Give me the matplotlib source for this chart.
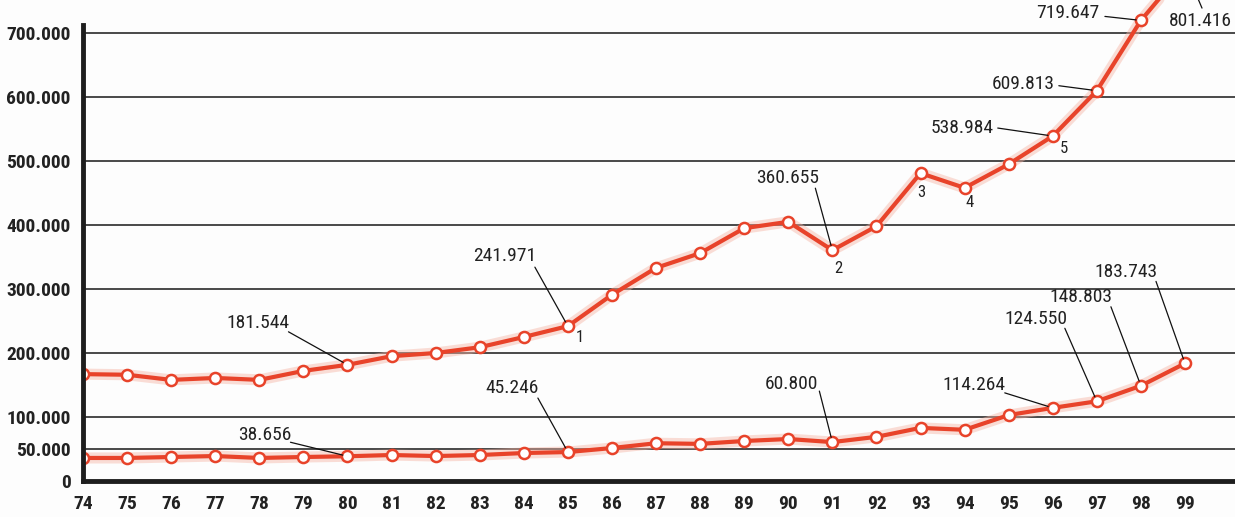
import matplotlib
matplotlib.use("Agg")
import matplotlib.pyplot as plt
from matplotlib import font_manager as fm

# ---------------- data (values in thousands) ----------------
years = list(range(74, 100))
year_labels = [str(y) for y in years]

upper = [167, 166, 158, 161, 158, 172, 181.544, 195, 200, 209, 225, 241.971,
         291, 333, 356, 395, 405, 360.655, 398, 481, 458, 495, 538.984,
         609.813, 719.647, 801.416]
lower = [36, 36, 37.5, 39, 36, 37.5, 38.656, 40.6, 39, 40.6, 43.7, 45.246,
         51.5, 59, 58, 62.5, 65.6, 60.800, 69, 83, 80, 103, 114.264,
         124.550, 148.803, 183.743]

ytick_vals = [0, 50, 100, 200, 300, 400, 500, 600, 700]
ytick_labels = ['0', '50.000', '100.000', '200.000', '300.000', '400.000',
                '500.000', '600.000', '700.000']

# labelled points: (series, year, label)
value_labels = [
    ('upper', 80, '181.544'),
    ('upper', 85, '241.971'),
    ('upper', 91, '360.655'),
    ('upper', 96, '538.984'),
    ('upper', 97, '609.813'),
    ('upper', 98, '719.647'),
    ('upper', 99, '801.416'),
    ('lower', 80, '38.656'),
    ('lower', 85, '45.246'),
    ('lower', 91, '60.800'),
    ('lower', 96, '114.264'),
    ('lower', 97, '124.550'),
    ('lower', 98, '148.803'),
    ('lower', 99, '183.743'),
]
# layout: text offset and leader-line start offset (pixels)
label_layout = [
    ((-90, 42), (-59, 33)),
    ((-63, 70), (-33, 59)),
    ((-45, 72), (-17, 62)),
    ((-91, 8), (-55, 8)),
    ((-74, 7), (-38, 5)),
    ((-73, 7), (-36, 4)),
    ((15, -53), (17, -40)),
    ((-83, 21), (-57, 14)),
    ((-56, 64), (-30, 54)),
    ((-41, 58), (-13, 51)),
    ((-79, 23), (-48, 15)),
    ((-61, 82), (-32, 73)),
    ((-60, 89), (-30, 79)),
    ((-59, 91), (-29, 82)),
]

marker_years = [85, 91, 93, 94, 96]
marker_texts = ['1', '2', '3', '4', '5']
marker_offsets = [(12, -11), (6, -18), (1, -19), (5, -15), (11, -12)]


# ---------------- font selection (condensed face if available) ----------------
def pick_font(bold):
    prefs = ['liberation sans narrow', 'roboto condensed', 'open sans condensed',
             'dejavu sans condensed', 'noto sans condensed', 'dejavu sans']
    best = None
    best_rank = None
    for f in fm.fontManager.ttflist:
        nm = f.name.lower()
        fn = f.fname.lower()
        cond = ('narrow' in nm or 'condensed' in nm or 'narrow' in fn
                or 'condensed' in fn or f.stretch in ('condensed', 'semi-condensed',
                                                      'extra-condensed'))
        if not cond:
            continue
        if 'italic' in fn or 'oblique' in fn or f.style != 'normal':
            continue
        w = f.weight if isinstance(f.weight, int) else (700 if 'bold' in str(f.weight) else 400)
        if bold and w < 600:
            continue
        if not bold and w >= 600:
            continue
        key = nm + ' ' + ('condensed' if 'condensed' in fn else '') + ('narrow' if 'narrow' in fn else '')
        rank = len(prefs)
        for i, p in enumerate(prefs):
            if all(part in key for part in p.split()):
                rank = i
                break
        if best is None or rank < best_rank:
            best, best_rank = f, rank
    if best is not None:
        return dict(fontproperties=fm.FontProperties(fname=best.fname)), True
    return dict(family=['Roboto', 'DejaVu Sans'],
                fontweight='bold' if bold else 'normal'), False


bold_font, bold_cond = pick_font(True)
reg_font, reg_cond = pick_font(False)
if not reg_cond and bold_cond:
    reg_font, reg_cond = bold_font, True
if not bold_cond and reg_cond:
    bold_font, bold_cond = reg_font, True
tick_size = 14 if bold_cond else 12
lab_size = 14 if reg_cond else 12
num_size = 12 if reg_cond else 10


def fp(fontdict, size):
    d = dict(fontdict)
    if 'fontproperties' in d:
        p = d['fontproperties'].copy()
        p.set_size(size)
        return dict(fontproperties=p)
    d['fontsize'] = size
    return d


# ---------------- figure ----------------
W, H = 1235, 517
fig = plt.figure(figsize=(W / 100, H / 100), dpi=100, facecolor='#fdfdfd')
ax = fig.add_axes([83 / W, 36 / H, 1 - 83 / W, 481 / H])
ax.set_facecolor('#fdfdfd')

ax.set_xlim(74, 74 + (W - 83) / 44.08)
ax.set_ylim(0, 481 / 0.64)

for v in ytick_vals[1:]:
    ax.axhline(v, color='#2a2a2a', lw=1.2, zorder=1)

red = '#e8432a'
for series in (upper, lower):
    ax.plot(years, series, color='#f6b5a5', lw=8, alpha=0.45, zorder=2,
            solid_capstyle='round')
    ax.plot(years, series, color=red, lw=3, zorder=3, marker='o',
            markersize=8, markerfacecolor='white', markeredgecolor=red,
            markeredgewidth=1.8)

ax.set_xticks(years)
ax.set_xticklabels(year_labels, color='#222222', **fp(bold_font, tick_size))
ax.set_yticks(ytick_vals)
ax.set_yticklabels(ytick_labels, color='#222222', **fp(bold_font, tick_size))
ax.tick_params(axis='both', length=0)
ax.tick_params(axis='y', pad=9)
ax.tick_params(axis='x', pad=10)

for s in ('top', 'right'):
    ax.spines[s].set_visible(False)
ax.spines['left'].set_linewidth(3.5)
ax.spines['bottom'].set_linewidth(3.5)
ax.spines['left'].set_color('#1e1e1e')
ax.spines['bottom'].set_color('#1e1e1e')
ax.spines['left'].set_bounds(0, 712)
ax.spines['left'].set_zorder(5)
ax.spines['bottom'].set_zorder(5)

series_map = {'upper': upper, 'lower': lower}
for (name, yr, txt), (toff, loff) in zip(value_labels, label_layout):
    yv = series_map[name][years.index(yr)]
    ax.annotate(txt, xy=(yr, yv), xytext=toff, textcoords='offset pixels',
                ha='center', va='center', color='#222222',
                annotation_clip=False, zorder=6, **fp(reg_font, lab_size))
    ax.annotate('', xy=(yr, yv), xytext=loff, textcoords='offset pixels',
                arrowprops=dict(arrowstyle='-', color='#111111', lw=0.9,
                                shrinkA=0, shrinkB=3.5),
                annotation_clip=False, zorder=6)

for yr, t, off in zip(marker_years, marker_texts, marker_offsets):
    yv = upper[years.index(yr)]
    ax.annotate(t, xy=(yr, yv), xytext=off, textcoords='offset pixels',
                ha='center', va='center', color='#222222',
                **fp(reg_font, num_size))

fig.savefig('out.png', dpi=100, facecolor=fig.get_facecolor())
